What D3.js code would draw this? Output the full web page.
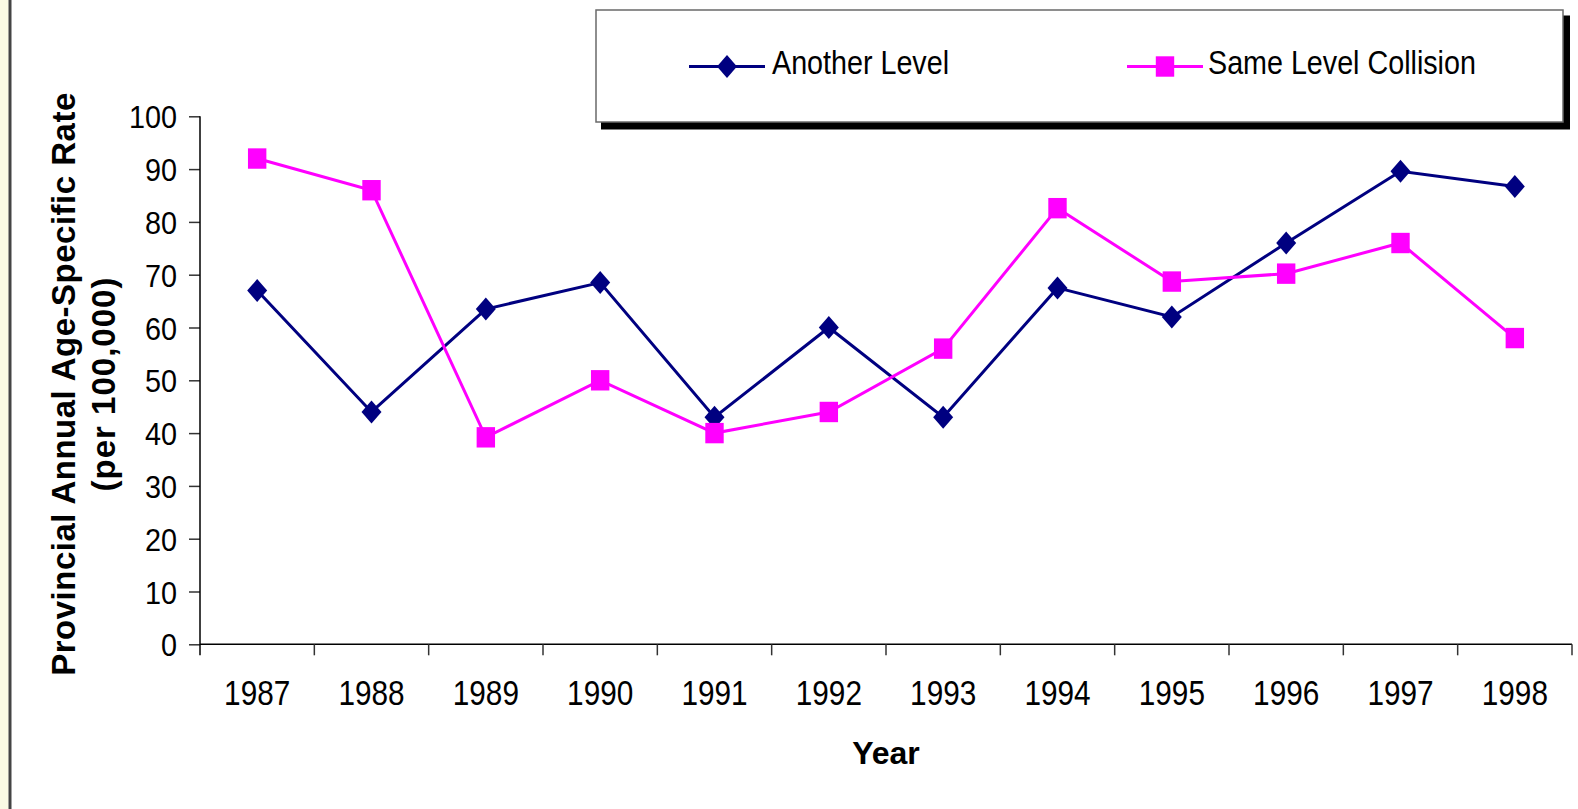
<!DOCTYPE html>
<html>
<head>
<meta charset="utf-8">
<script src="https://cdn.jsdelivr.net/npm/d3@7"></script>
<style>
  html, body { margin: 0; padding: 0; background: #ffffff; }
  svg { display: block; font-family: "Liberation Sans", Arial, sans-serif; }
</style>
</head>
<body>
<svg id="chart" width="1578" height="809"></svg>
<script>
// Yearly rates per 100,000 by fall type
const years = ["1987", "1988", "1989", "1990", "1991", "1992", "1993", "1994", "1995", "1996", "1997", "1998"];
const anotherLevel = [67, 44, 63.5, 68.5, 43, 60, 43, 67.5, 62, 76, 89.6, 86.7];
const sameLevelCollision = [92, 86, 39.2, 50, 40, 44, 56, 82.6, 68.7, 70.2, 76, 58];
const yTicks = [0, 10, 20, 30, 40, 50, 60, 70, 80, 90, 100];
const seriesNames = ["Another Level", "Same Level Collision"];

const svg = d3.select("#chart");
const W = 1578, H = 809;
const plot = { left: 200, right: 1572, top: 116.3, bottom: 644.3 };

// page frame: pale strip and dark rule on the left edge
svg.append("rect").attr("x", 0).attr("y", 0).attr("width", W).attr("height", H).attr("fill", "#ffffff");
svg.append("rect").attr("x", 0).attr("y", 0).attr("width", 8.5).attr("height", H).attr("fill", "#fafae4");
svg.append("rect").attr("x", 8.5).attr("y", 0).attr("width", 3).attr("height", H).attr("fill", "#444444");

const x = d3.scaleBand().domain(years).range([plot.left, plot.right]).padding(0);
const y = d3.scaleLinear().domain([0, 100]).range([plot.bottom, plot.top]);

// Y axis
const yAxis = svg.append("g")
  .attr("transform", `translate(${plot.left},0)`)
  .call(d3.axisLeft(y).tickValues(yTicks).tickSize(11).tickSizeOuter(0));
yAxis.select(".domain").remove();
yAxis.selectAll(".tick line").attr("stroke", "#333").attr("stroke-width", 1.5);
yAxis.selectAll(".tick text")
  .attr("x", -25.5).attr("dy", "0.36em")
  .attr("transform", "scale(0.9,1)")
  .attr("font-size", 32).attr("fill", "#000");
svg.append("line")
  .attr("x1", plot.left).attr("x2", plot.left)
  .attr("y1", plot.top).attr("y2", plot.bottom + 11)
  .attr("stroke", "#000").attr("stroke-width", 1.5);

// X axis: baseline, category boundary ticks and centred labels
svg.append("line")
  .attr("x1", plot.left).attr("x2", plot.right)
  .attr("y1", plot.bottom).attr("y2", plot.bottom)
  .attr("stroke", "#000").attr("stroke-width", 1.5);
const bounds = years.map(d => x(d)).concat([x.range()[1]]);
svg.append("g").selectAll("line").data(bounds.slice(1)).join("line")
  .attr("x1", d => d).attr("x2", d => d)
  .attr("y1", plot.bottom).attr("y2", plot.bottom + 11)
  .attr("stroke", "#333").attr("stroke-width", 1.5);
svg.append("g").selectAll("text").data(years).join("text")
  .attr("transform", d => `translate(${x(d) + x.bandwidth() / 2},705) scale(0.85,1)`)
  .attr("text-anchor", "middle")
  .attr("font-size", 35).attr("fill", "#000")
  .text(d => d);

// Axis titles
svg.append("text")
  .attr("x", plot.left + (plot.right - plot.left) / 2).attr("y", 764)
  .attr("text-anchor", "middle").attr("font-weight", "bold")
  .attr("font-size", 32).attr("fill", "#000")
  .text("Year");
const yTitle = svg.append("g").attr("transform", "translate(0,384) rotate(-90)");
yTitle.append("text").attr("x", 0).attr("y", 75)
  .attr("text-anchor", "middle").attr("font-weight", "bold")
  .attr("font-size", 33).attr("letter-spacing", 0.5).attr("fill", "#000")
  .text("Provincial Annual Age-Specific Rate");
yTitle.append("text").attr("x", 0).attr("y", 115)
  .attr("text-anchor", "middle").attr("font-weight", "bold")
  .attr("font-size", 33).attr("letter-spacing", 1).attr("fill", "#000")
  .text("(per 100,000)");

// marker shapes
function diamond(g, cx, cy) {
  g.append("path")
    .attr("d", `M${cx},${cy - 11.5}L${cx + 10},${cy}L${cx},${cy + 11.5}L${cx - 10},${cy}Z`)
    .attr("fill", "#000080");
}
function square(g, cx, cy) {
  g.append("rect")
    .attr("x", cx - 9.2).attr("y", cy - 10.2).attr("width", 18.4).attr("height", 20.4)
    .attr("fill", "#ff00ff");
}

const line = d3.line().x((d, i) => x(years[i]) + x.bandwidth() / 2).y(d => y(d));

// Another Level series
const s1 = svg.append("g");
s1.append("path").datum(anotherLevel).attr("d", line)
  .attr("fill", "none").attr("stroke", "#000080").attr("stroke-width", 3);
anotherLevel.forEach((v, i) => diamond(s1, x(years[i]) + x.bandwidth() / 2, y(v)));

// Same Level Collision series
const s2 = svg.append("g");
s2.append("path").datum(sameLevelCollision).attr("d", line)
  .attr("fill", "none").attr("stroke", "#ff00ff").attr("stroke-width", 3);
sameLevelCollision.forEach((v, i) => square(s2, x(years[i]) + x.bandwidth() / 2, y(v)));

// Legend box with drop shadow
const lg = svg.append("g");
lg.append("rect").attr("x", 601).attr("y", 15.5).attr("width", 969).attr("height", 114).attr("fill", "#000");
lg.append("rect").attr("x", 596).attr("y", 10).attr("width", 967).attr("height", 112)
  .attr("fill", "#fff").attr("stroke", "#6a6a6a").attr("stroke-width", 1.5);

const legendItems = [
  { name: seriesNames[0], x0: 689, x1: 765, color: "#000080", marker: diamond, tx: 772 },
  { name: seriesNames[1], x0: 1127, x1: 1203, color: "#ff00ff", marker: square, tx: 1208 }
];
legendItems.forEach(it => {
  const ly = 66.5;
  lg.append("line").attr("x1", it.x0).attr("x2", it.x1).attr("y1", ly).attr("y2", ly)
    .attr("stroke", it.color).attr("stroke-width", 3);
  it.marker(lg, (it.x0 + it.x1) / 2, ly);
  lg.append("text")
    .attr("transform", `translate(${it.tx},${ly + 7.5}) scale(0.87,1)`)
    .attr("font-size", 33).attr("fill", "#000")
    .text(it.name);
});
</script>
</body>
</html>
